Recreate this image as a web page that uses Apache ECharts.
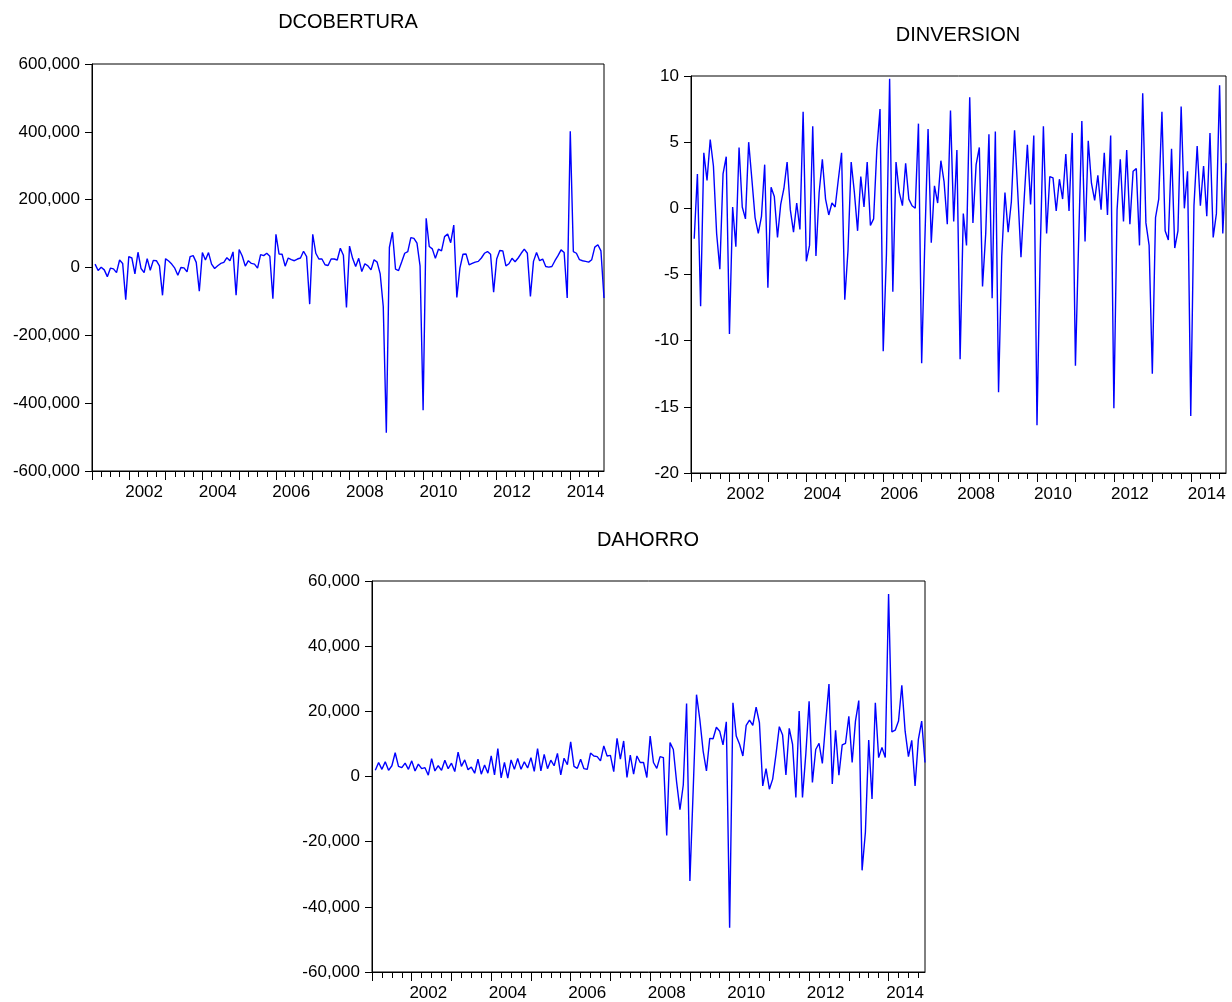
<!DOCTYPE html>
<html>
<head>
<meta charset="utf-8">
<script src="https://cdn.jsdelivr.net/npm/echarts@6/dist/echarts.min.js"></script>
<style>
html,body{margin:0;padding:0;background:#fff;}
#chart{width:1232px;height:1002px;}
</style>
</head>
<body>
<div id="chart"></div>
<script>
// Monthly sample 2001M01..2014M12; first observation lost by differencing
var startYear = 2001, endYear = 2014;
var titles = ['DCOBERTURA', 'DINVERSION', 'DAHORRO'];

var dcobertura = [
 10000,-9000,1000,-7000,-27000,-2000,-4000,-15000,22000,12000,-95000,
 32000,28000,-19000,45000,-3000,-15000,26000,-8000,21000,20000,5000,-82000,
 26000,19000,10000,-2000,-23000,0,-1000,-13000,32000,35000,15000,-70000,
 44000,22000,44000,10000,-3000,5000,12000,15000,29000,20000,46000,-82000,
 53000,34000,4000,20000,12000,10000,-2000,38000,35000,42000,33000,-92000,
 98000,40000,39000,4000,28000,23000,20000,25000,28000,48000,32000,-108000,
 98000,42000,25000,25000,8000,6000,25000,25000,22000,57000,36000,-118000,
 63000,27000,3000,27000,-12000,11000,5000,-7000,23000,16000,-19000,-115000,
 -487000,59000,104000,-5000,-9000,16000,42000,47000,88000,86000,72000,5000,
 -421000,145000,62000,55000,27000,54000,49000,91000,99000,73000,125000,-88000,
 -2000,39000,40000,8000,12000,16000,18000,28000,42000,47000,39000,-73000,
 25000,50000,49000,5000,11000,27000,17000,28000,42000,54000,42000,-85000,
 18000,44000,20000,25000,3000,1000,3000,20000,35000,52000,44000,-90000,
 402000,47000,42000,23000,20000,18000,16000,23000,60000,67000,49000,-90000
];

var dinversion = [
 -2.3,2.6,-7.4,4.2,2.1,5.2,3.2,-1.9,-4.6,2.6,3.9,
 -9.5,0.1,-2.9,4.6,0.1,-0.8,5.0,2.2,-0.7,-1.9,-0.6,3.3,
 -6.0,1.6,0.9,-2.2,0.3,1.5,3.5,-0.1,-1.8,0.4,-1.6,7.3,
 -4.0,-2.8,6.2,-3.6,1.2,3.7,0.7,-0.5,0.4,0.1,2.2,4.2,
 -6.9,-3.2,3.5,1.2,-1.7,2.4,0.1,3.5,-1.3,-0.8,4.4,7.5,
 -10.8,-3.5,9.8,-6.3,3.5,1.2,0.2,3.4,0.7,0.2,0.0,6.4,
 -11.7,-2.4,6.0,-2.6,1.7,0.4,3.6,2.0,-1.2,7.4,-1.0,4.4,
 -11.4,-0.4,-2.8,8.4,-1.1,3.3,4.6,-5.9,-1.9,5.6,-6.8,5.8,
 -13.9,-3.6,1.2,-1.8,0.5,5.9,1.2,-3.7,0.7,4.8,0.3,5.5,
 -16.4,-3.4,6.2,-1.9,2.4,2.3,-0.2,2.2,0.7,4.1,-0.2,5.7,
 -11.9,-2.5,6.6,-2.5,5.1,1.9,0.6,2.5,-0.1,4.2,-0.5,5.5,
 -15.1,-0.1,3.7,-1.0,4.4,-1.2,2.8,3.0,-2.8,8.7,-1.1,-2.8,
 -12.5,-0.7,0.7,7.3,-1.7,-2.4,4.5,-3.0,-1.7,7.7,0.0,2.8,
 -15.7,0.2,4.7,0.2,3.2,-0.6,5.7,-2.2,-0.4,9.3,-1.9,3.4
];

var dahorro = [
 1900,4300,2200,4500,1900,3300,7300,3100,2700,4100,2200,
 4800,1700,3800,2400,2700,400,5500,1700,3300,1900,5000,2400,
 4100,1500,7500,3100,5100,2100,2900,1000,5300,700,3500,1000,
 6300,500,8600,-400,4300,-500,5100,2200,5500,2200,4500,2600,
 5800,1600,8600,1700,6800,2400,5000,3300,7100,500,5600,3600,
 10600,3100,2500,5300,2400,2200,7200,6300,6100,4800,9400,6300,
 6500,1500,11700,5300,10900,-300,6600,700,6300,4300,4300,-300,
 12400,4300,2500,6100,5800,-18100,10400,8300,-1800,-10200,-2600,22400,
 -32100,-4000,25100,17500,7800,1700,11700,11600,15100,13900,9700,16800,
 -46400,22600,12400,9900,6300,15700,17300,15700,21300,16500,-2900,2400,
 -3900,-800,6800,15300,12700,500,14800,9900,-6400,20100,-6400,6800,
 23100,-1800,8300,10200,4000,16500,28400,-2300,14200,400,9700,10200,
 18500,4300,17000,23300,-28800,-17100,11200,-6900,22600,5800,8900,5800,
 56000,13700,14200,17000,28000,13900,6100,11100,-2900,11400,17000,4300
];

var yMin = [-600000, -20, -60000];
var yMax = [600000, 10, 60000];
var yStep = [200000, 5, 20000];

var months = [];
for (var y = startYear; y <= endYear; y++) {
  for (var m = 1; m <= 12; m++) months.push(y + 'M' + (m < 10 ? '0' + m : m));
}

var FONT = "'Liberation Sans', Arial, Helvetica, sans-serif";
var grids = [
  {left: 92, top: 64, width: 512, height: 407},
  {left: 691, top: 76, width: 535, height: 397},
  {left: 372, top: 581, width: 553, height: 393}
];
var titlePos = [[348, 22], [958, 35], [648, 540]];
var seriesData = [dcobertura, dinversion, dahorro];

function fmt(v) {
  var s = String(Math.abs(v)).replace(/\B(?=(\d{3})+(?!\d))/g, ',');
  return (v < 0 ? '-' : '') + s;
}

var xAxes = [], yAxes = [], series = [], graphics = [];
grids.forEach(function (g, k) {
  g.show = true; g.borderColor = '#000'; g.borderWidth = 1; g.backgroundColor = '#fff';
  xAxes.push({
    type: 'category', gridIndex: k, position: 'bottom', data: months, boundaryGap: false,
    axisLine: {show: true, onZero: false, lineStyle: {color: '#000', width: 1}},
    axisTick: {show: true, length: 9, lineStyle: {color: '#000'},
      interval: function (i) { return i % 12 === 0; }},
    axisLabel: {show: true, color: '#000', fontSize: 17, fontFamily: FONT, margin: 13,
      interval: function (i) { return i % 24 === 17; },
      formatter: function (v) { return v.slice(0, 4); }},
    splitLine: {show: false}
  });
  xAxes.push({
    type: 'category', gridIndex: k, position: 'bottom', data: months, boundaryGap: false,
    axisLine: {show: false, onZero: false},
    axisTick: {show: true, length: 6, lineStyle: {color: '#000'},
      interval: function (i) { return i % 3 === 0; }},
    axisLabel: {show: false},
    splitLine: {show: false}
  });
  yAxes.push({
    type: 'value', gridIndex: k, min: yMin[k], max: yMax[k], interval: yStep[k],
    axisLine: {show: true, onZero: false, lineStyle: {color: '#000', width: 1}},
    axisTick: {show: true, length: 7, lineStyle: {color: '#000'}},
    axisLabel: {color: '#000', fontSize: 17, fontFamily: FONT, margin: 12, formatter: fmt},
    splitLine: {show: false}
  });
  series.push({
    type: 'line', name: titles[k], xAxisIndex: 2 * k, yAxisIndex: k,
    data: ['-'].concat(seriesData[k]),
    showSymbol: false, symbol: 'none', connectNulls: false,
    lineStyle: {color: '#0000ff', width: 1.4},
    itemStyle: {color: '#0000ff'},
    animation: false
  });
  graphics.push({
    type: 'text', x: titlePos[k][0], y: titlePos[k][1],
    style: {text: titles[k], fill: '#000', font: '20px ' + FONT,
      textAlign: 'center', textVerticalAlign: 'middle'}
  });
});

var chart = echarts.init(document.getElementById('chart'), null, {renderer: 'canvas'});
chart.setOption({
  backgroundColor: '#fff',
  animation: false,
  grid: grids,
  xAxis: xAxes,
  yAxis: yAxes,
  series: series,
  graphic: graphics
});
</script>
</body>
</html>
